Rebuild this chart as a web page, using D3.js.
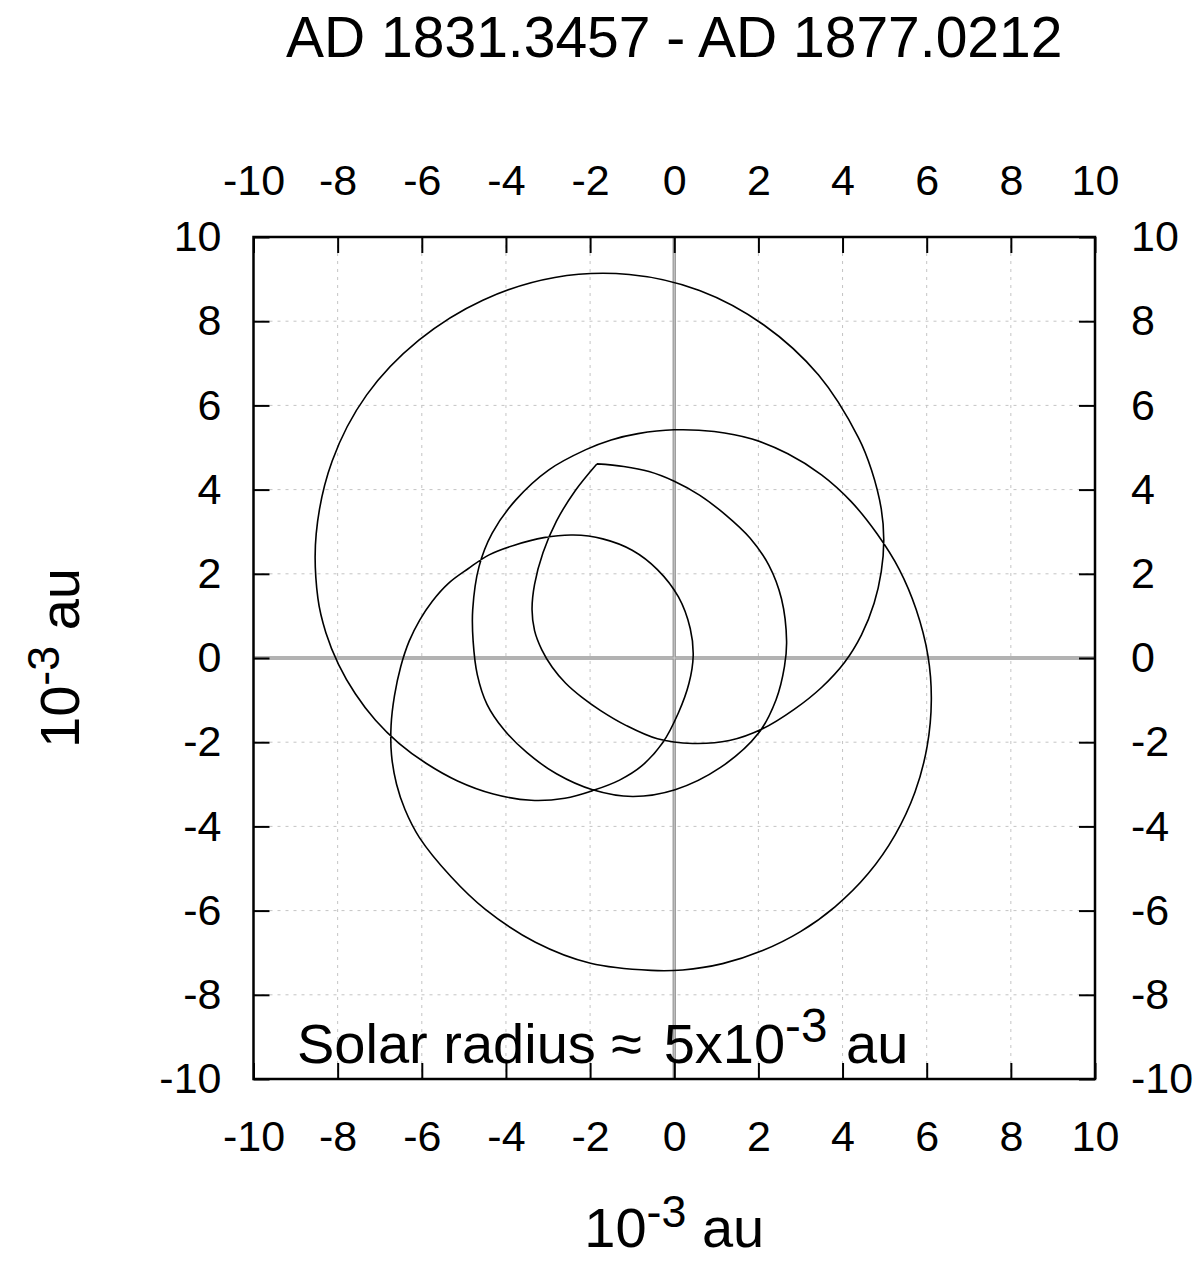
<!DOCTYPE html>
<html>
<head>
<meta charset="utf-8">
<script src="https://cdn.jsdelivr.net/npm/d3@7"></script>
<style>
  html, body { margin: 0; padding: 0; background: #fff; }
  svg { display: block; }
  text { font-family: "Liberation Sans", Arial, Helvetica, sans-serif; fill: #000; }
</style>
</head>
<body>
<svg id="chart" width="1200" height="1265"></svg>
<script>
// ---- data ----
const titleText = "AD 1831.3457 - AD 1877.0212";
const tickValues = [-10, -8, -6, -4, -2, 0, 2, 4, 6, 8, 10];
const gridValues = [-8, -6, -4, -2, 2, 4, 6, 8];
// solar barycentric path (10^-3 au), in time order
const pathX = [-1.84,-2.35,-2.8,-3.12,-3.32,-3.38,-3.32,-3.15,-2.9,-2.58,-2.2,-1.75,-1.15,-0.4,0.44,1.31,2.1,2.85,3.5,4.05,4.45,4.75,4.92,4.98,4.92,4.69,4.38,3.43,2.13,0.6,-1.07,-2.84,-4.55,-6.07,-7.31,-8.13,-8.51,-8.47,-8.28,-7.98,-7.58,-7.1,-6.55,-5.9,-5.15,-4.3,-3.4,-2.6,-1.94,-1.3,-0.78,-0.28,0.1,0.35,0.45,0.38,0.1,-0.4,-1.0,-1.7,-2.4,-3.1,-3.8,-4.4,-4.9,-5.36,-5.75,-6.05,-6.3,-6.5,-6.65,-6.73,-6.72,-6.6,-6.4,-6.06,-5.31,-4.49,-3.3,-1.99,-0.55,0.2,1.15,2.1,3.0,3.82,4.61,5.25,5.72,6.01,6.11,6.03,5.75,5.35,4.82,4.2,3.5,2.7,1.85,0.95,0.0,-0.86,-1.5,-2.1,-2.98,-3.77,-4.33,-4.64,-4.79,-4.78,-4.68,-4.45,-4.05,-3.5,-2.8,-1.94,-0.99,0.02,1.1,2.0,2.42,2.62,2.67,2.55,2.25,1.8,1.22,0.6,0.0,-0.6,-1.2,-1.84];
const pathY = [4.61,3.98,3.25,2.5,1.75,1.15,0.65,0.2,-0.22,-0.6,-0.93,-1.25,-1.6,-1.92,-2.03,-1.96,-1.68,-1.22,-0.7,-0.1,0.55,1.3,2.05,2.8,3.54,4.46,5.23,6.72,7.91,8.73,9.11,9.04,8.5,7.55,6.25,4.68,2.95,1.42,0.6,-0.15,-0.85,-1.48,-2.02,-2.5,-2.92,-3.23,-3.38,-3.33,-3.15,-2.9,-2.57,-2.02,-1.3,-0.6,0.05,0.7,1.45,2.1,2.56,2.83,2.92,2.86,2.68,2.45,2.12,1.78,1.35,0.9,0.4,-0.2,-0.9,-1.6,-2.3,-3.0,-3.6,-4.26,-5.19,-5.97,-6.75,-7.25,-7.42,-7.41,-7.26,-6.95,-6.5,-5.91,-5.12,-4.2,-3.19,-2.1,-0.99,0.05,1.15,2.1,2.95,3.72,4.35,4.85,5.2,5.38,5.42,5.33,5.18,4.95,4.47,3.75,2.96,2.17,1.15,0.4,-0.4,-1.1,-1.7,-2.25,-2.75,-3.13,-3.29,-3.13,-2.6,-1.79,-0.99,-0.2,0.4,1.4,2.2,2.85,3.4,3.87,4.2,4.43,4.55,4.61];

// ---- layout ----
const L = 253.5, R = 1095, T = 237, B = 1079;
const svg = d3.select("#chart");
const x = d3.scaleLinear().domain([-10, 10]).range([L, R]);
const y = d3.scaleLinear().domain([-10, 10]).range([B, T]);

// grid
const grid = svg.append("g");
grid.selectAll("line.gv").data(gridValues).enter().append("line")
  .attr("x1", d => x(d)).attr("x2", d => x(d)).attr("y1", T).attr("y2", B)
  .attr("stroke", "#c4c4c4").attr("stroke-width", 1).attr("stroke-dasharray", "3,5");
grid.selectAll("line.gh").data(gridValues).enter().append("line")
  .attr("y1", d => y(d)).attr("y2", d => y(d)).attr("x1", L).attr("x2", R)
  .attr("stroke", "#c4c4c4").attr("stroke-width", 1).attr("stroke-dasharray", "3,5");

// zero axes (double gray line)
const zg = svg.append("g");
[["#999", 3.4], ["#d8d8d8", 0.8]].forEach(([c, w]) => {
  zg.append("line").attr("x1", x(0)).attr("x2", x(0)).attr("y1", T).attr("y2", B)
    .attr("stroke", c).attr("stroke-width", w);
  zg.append("line").attr("x1", L).attr("x2", R).attr("y1", y(0)).attr("y2", y(0))
    .attr("stroke", c).attr("stroke-width", w);
});

// path
const pts = pathX.map((v, i) => [v, pathY[i]]);
const line = d3.line().x(d => x(d[0])).y(d => y(d[1])).curve(d3.curveCatmullRom.alpha(0.5));
svg.append("path").attr("d", line(pts)).attr("fill", "none")
  .attr("stroke", "#000").attr("stroke-width", 1.6).attr("stroke-linejoin", "miter");

// axes
const fmt = d => String(d);
function styleAxis(g) {
  g.select(".domain").remove();
  g.selectAll(".tick line").attr("stroke", "#000").attr("stroke-width", 2);
  g.selectAll(".tick text").style("font-size", "43px").attr("fill", "#000");
}
svg.append("g").attr("transform", `translate(0,${B})`)
  .call(d3.axisBottom(x).tickValues(tickValues).tickFormat(fmt).tickSizeInner(-16).tickSizeOuter(0).tickPadding(41))
  .call(styleAxis);
svg.append("g").attr("transform", `translate(0,${T})`)
  .call(d3.axisTop(x).tickValues(tickValues).tickFormat(fmt).tickSizeInner(-16).tickSizeOuter(0).tickPadding(42))
  .call(styleAxis);
svg.append("g").attr("transform", `translate(${L},0)`)
  .call(d3.axisLeft(y).tickValues(tickValues).tickFormat(fmt).tickSizeInner(-16).tickSizeOuter(0).tickPadding(32))
  .call(styleAxis);
svg.append("g").attr("transform", `translate(${R},0)`)
  .call(d3.axisRight(y).tickValues(tickValues).tickFormat(fmt).tickSizeInner(-16).tickSizeOuter(0).tickPadding(36))
  .call(styleAxis);

// frame
svg.append("rect").attr("x", L).attr("y", T).attr("width", R - L).attr("height", B - T)
  .attr("fill", "none").attr("stroke", "#000").attr("stroke-width", 2.5);

// title
svg.append("text").attr("x", (L + R) / 2).attr("y", 57).attr("text-anchor", "middle")
  .style("font-size", "57px").text(titleText);

// axis labels with superscript
function unitLabel(sel) {
  sel.append("tspan").text("10");
  sel.append("tspan").attr("dy", "-0.45em").style("font-size", "0.8em").text("-3");
  sel.append("tspan").attr("dy", "0.36em").text(" au");
}
svg.append("text").attr("x", (L + R) / 2).attr("y", 1247).attr("text-anchor", "middle")
  .style("font-size", "56px").call(unitLabel);
svg.append("text").attr("transform", `translate(79,${(T + B) / 2}) rotate(-90)`).attr("text-anchor", "middle")
  .style("font-size", "56px").call(unitLabel);

// solar radius note
const note = svg.append("text").attr("x", 297).attr("y", 1063).style("font-size", "56px");
note.append("tspan").text("Solar radius \u2248");
note.append("tspan").attr("dx", 6).text(" 5x10");
note.append("tspan").attr("dy", "-0.45em").style("font-size", "0.85em").text("-3");
note.append("tspan").attr("dy", "0.38em").attr("dx", 3).text(" au");
</script>
</body>
</html>
